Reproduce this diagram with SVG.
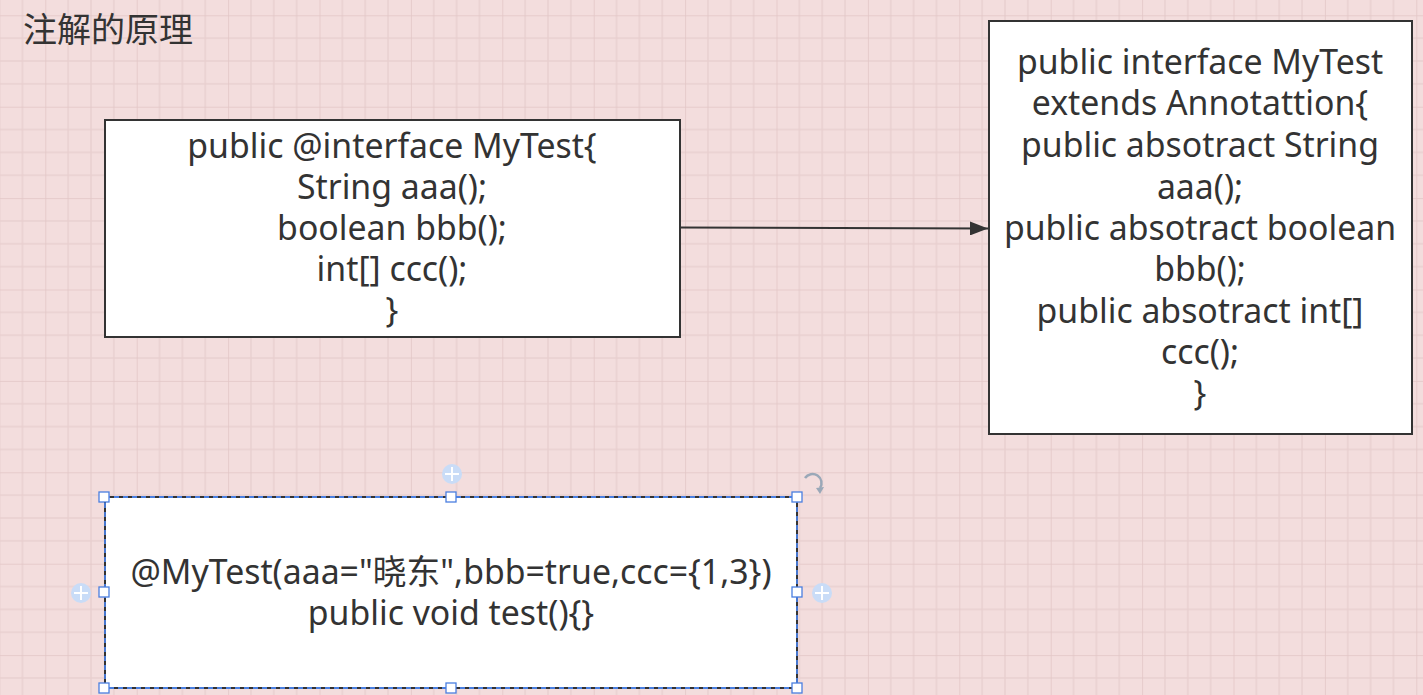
<svg xmlns="http://www.w3.org/2000/svg" width="1423" height="695" viewBox="0 0 1423 695">
<style>
.t{font-family:"Noto Sans","Noto Sans CJK SC",sans-serif;font-size:33.8px;fill:#333;text-anchor:middle}
.box{fill:#fff;stroke:#333;stroke-width:2}
.h{fill:#fff;stroke:#4a7fe0;stroke-width:1.3}
.plus{fill:#c9dcf7}
.pl{stroke:#fff;stroke-width:2}
</style>
<defs>
<pattern id="grid" patternUnits="userSpaceOnUse" x="45.3" y="15.3" width="91.4" height="91.4">
<rect width="91.4" height="91.4" fill="#f3dddd"/>
<path d="M22.85 0V91.4M45.7 0V91.4M68.55 0V91.4M0 22.85H91.4M0 45.7H91.4M0 68.55H91.4" stroke="#e9d0d0" stroke-width="1.5"/>
<path d="M0 0V91.4M0 0H91.4" stroke="#e2c6c6" stroke-width="1.5"/>
</pattern>
<marker id="arr2" viewBox="0 0 18 14" markerWidth="18" markerHeight="14" refX="18" refY="7" orient="auto" markerUnits="userSpaceOnUse">
<path d="M0 0L18 7L0 14Z" fill="#333"/>
</marker>
</defs>
<rect width="1423" height="695" fill="url(#grid)"/>
<text x="23" y="42" style="font-family:'Noto Sans CJK SC',sans-serif;font-size:34px;fill:#333">注解的原理</text>
<g id="connectors">
<path d="M680 227.5L988 228.5" stroke="#333" stroke-width="2" fill="none" marker-end="url(#arr2)"/>
</g>
<g id="node-annotation">
<rect class="box" x="105" y="120" width="575" height="217"/>
<text class="t" x="392" y="158">public @interface MyTest{</text>
<text class="t" x="392" y="199">String aaa();</text>
<text class="t" x="392" y="240">boolean bbb();</text>
<text class="t" x="392" y="281">int[] ccc();</text>
<text class="t" x="392" y="322">}</text>
</g>
<g id="node-interface">
<rect class="box" x="989" y="21" width="423" height="413"/>
<text class="t" x="1200" y="74">public interface MyTest</text>
<text class="t" x="1200" y="115">extends Annotattion{</text>
<text class="t" x="1200" y="157">public absotract String</text>
<text class="t" x="1200" y="199">aaa();</text>
<text class="t" x="1200" y="240">public absotract boolean</text>
<text class="t" x="1200" y="281">bbb();</text>
<text class="t" x="1200" y="323">public absotract int[]</text>
<text class="t" x="1200" y="364">ccc();</text>
<text class="t" x="1200" y="405">}</text>
</g>
<g id="node-usage">
<rect class="box" x="105" y="497" width="692" height="191"/>
<rect x="105" y="497" width="692" height="191" fill="none" stroke="#4a7fe0" stroke-width="1.8" stroke-dasharray="5 4"/>
<text class="t" x="451" y="584">@MyTest(aaa="晓东",bbb=true,ccc={1,3})</text>
<text class="t" x="451" y="625">public void test(){}</text>
</g>
<g id="selection">
<rect class="h" x="99" y="492" width="10" height="10"/>
<rect class="h" x="446" y="492" width="10" height="10"/>
<rect class="h" x="792" y="492" width="10" height="10"/>
<rect class="h" x="99" y="587" width="10" height="10"/>
<rect class="h" x="792" y="587" width="10" height="10"/>
<rect class="h" x="99" y="683" width="10" height="10"/>
<rect class="h" x="446" y="683" width="10" height="10"/>
<rect class="h" x="792" y="683" width="10" height="10"/>
<circle class="plus" cx="452" cy="474" r="10"/>
<path class="pl" d="M452 467V481M445 474H459"/>
<circle class="plus" cx="81" cy="593" r="10"/>
<path class="pl" d="M81 586V600M74 593H88"/>
<circle class="plus" cx="822" cy="593" r="10"/>
<path class="pl" d="M822 586V600M815 593H829"/>
<path d="M805 478A9 9 0 0 1 820 488" fill="none" stroke="#9aa8b8" stroke-width="2.5"/>
<path d="M816 488L824 487L820 494Z" fill="#9aa8b8"/>
</g>
</svg>
